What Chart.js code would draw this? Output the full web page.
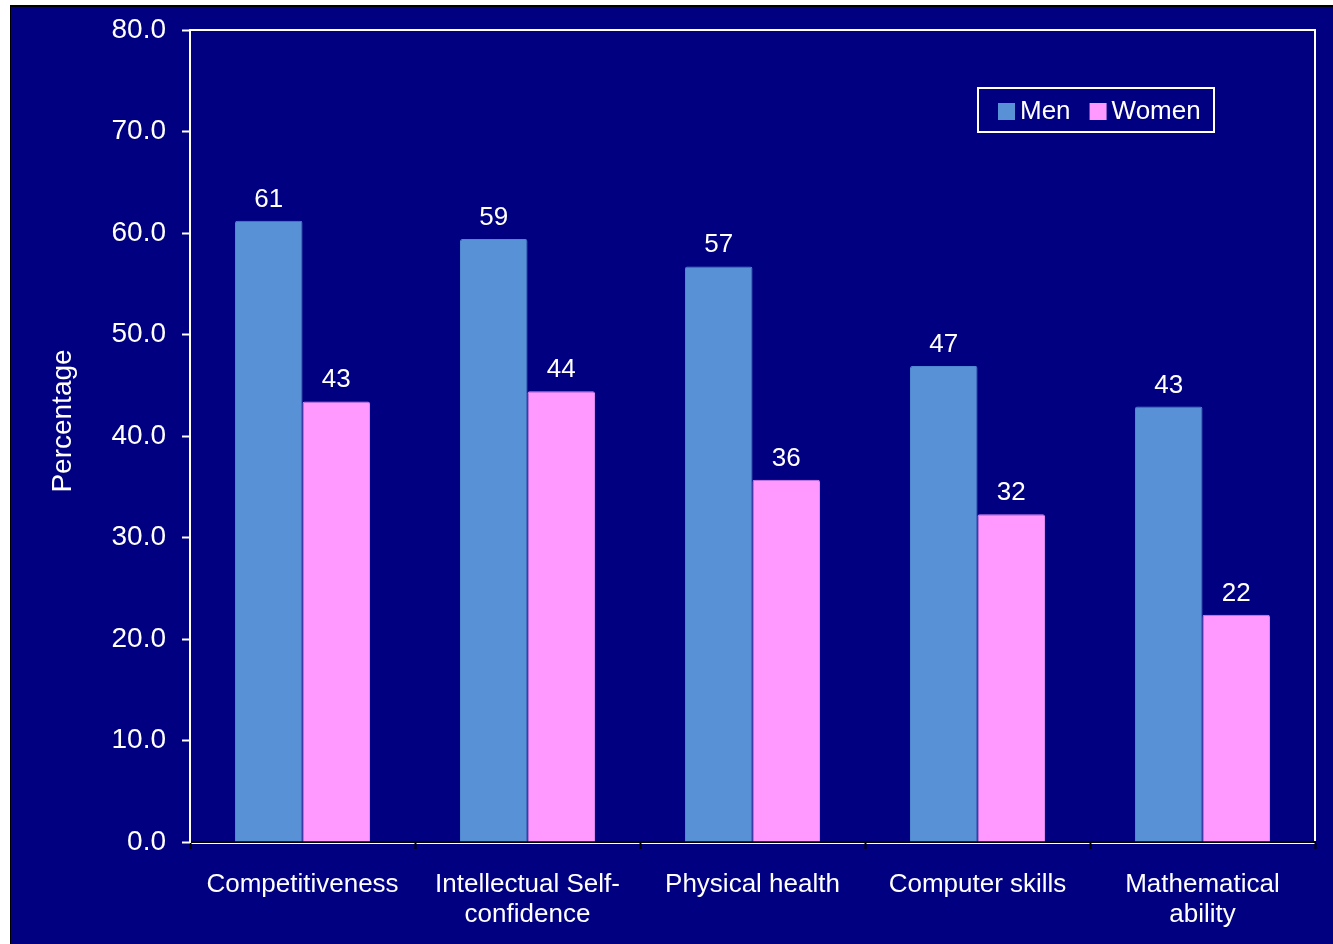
<!DOCTYPE html>
<html>
<head>
<meta charset="utf-8">
<script src="https://cdn.jsdelivr.net/npm/chart.js@4.4.1/dist/chart.umd.min.js"></script>
<style>
    body { margin: 0; background: #ffffff; }
    canvas { display: block; }
</style>
</head>
<body>
<canvas id="report" width="1333" height="944"></canvas>
<script>
const categories = ['Competitiveness', ['Intellectual Self-', 'confidence'], 'Physical health', 'Computer skills', ['Mathematical', 'ability']];
const menValues = [61.2, 59.4, 56.7, 46.9, 42.9];
const womenValues = [43.4, 44.4, 35.7, 32.3, 22.4];
const yTicks = { min: 0, max: 80, step: 10 };

const FONT = "'Liberation Sans', Arial, sans-serif";

// navy background with the thin black frame
const backgroundPlugin = {
    id: 'background',
    beforeDraw(chart) {
        const ctx = chart.ctx;
        const area = chart.chartArea;
        ctx.save();
        ctx.fillStyle = '#ffffff';
        ctx.fillRect(0, 0, chart.width, chart.height);
        ctx.fillStyle = '#000000';
        ctx.fillRect(10, 5, chart.width - 10, chart.height - 5);
        ctx.fillStyle = '#000080';
        ctx.fillRect(11, 7, chart.width - 11, chart.height - 7);
        // white plot frame
        ctx.strokeStyle = '#ffffff';
        ctx.lineWidth = 2;
        ctx.strokeRect(area.left, area.top, area.right - area.left, area.bottom - area.top + 1);
        ctx.restore();
    }
};

// value labels above the bars
const valueLabels = {
    id: 'valueLabels',
    afterDatasetsDraw(chart) {
        const ctx = chart.ctx;
        ctx.save();
        ctx.fillStyle = '#ffffff';
        ctx.font = '26px ' + FONT;
        ctx.textAlign = 'center';
        ctx.textBaseline = 'alphabetic';
        chart.data.datasets.forEach((ds, i) => {
            chart.getDatasetMeta(i).data.forEach((bar, j) => {
                ctx.fillText(Math.round(ds.data[j]), bar.x, bar.y - 14);
            });
        });
        ctx.restore();
    }
};

// boxed legend inside the plot area
const boxLegend = {
    id: 'boxLegend',
    afterDraw(chart) {
        const ctx = chart.ctx;
        const area = chart.chartArea;
        const x0 = area.right - 337;
        const y0 = area.top + 58;
        ctx.save();
        ctx.strokeStyle = '#ffffff';
        ctx.lineWidth = 2;
        ctx.strokeRect(x0, y0, 236, 44);
        ctx.font = '26px ' + FONT;
        ctx.textBaseline = 'middle';
        let x = x0 + 20;
        chart.data.datasets.forEach(ds => {
            ctx.fillStyle = ds.backgroundColor;
            ctx.fillRect(x, y0 + 15, 17, 17);
            ctx.fillStyle = '#ffffff';
            ctx.fillText(ds.label, x + 22, y0 + 24);
            x += 22 + ctx.measureText(ds.label).width + 19;
        });
        ctx.restore();
    }
};

// axis title, sitting a little above the middle of the axis
const yTitle = {
    id: 'yTitle',
    afterDraw(chart) {
        const ctx = chart.ctx;
        const area = chart.chartArea;
        ctx.save();
        ctx.translate(63, (area.top + area.bottom) / 2 - 15);
        ctx.rotate(-Math.PI / 2);
        ctx.fillStyle = '#ffffff';
        ctx.font = '28px ' + FONT;
        ctx.textAlign = 'center';
        ctx.textBaseline = 'middle';
        ctx.fillText('Percentage', 0, 0);
        ctx.restore();
    }
};

const ctx = document.getElementById('report').getContext('2d');
let myChart = new Chart(ctx, {
    type: 'bar',
    data: {
        labels: categories,
        datasets: [{
            label: 'Men',
            data: menValues,
            backgroundColor: '#5891D6',
            borderColor: '#5088D0',
            borderWidth: 1,
            borderRadius: 2,
            borderSkipped: 'bottom'
        }, {
            label: 'Women',
            data: womenValues,
            backgroundColor: '#FF99FF',
            borderColor: '#DD88F0',
            borderWidth: 1,
            borderRadius: 2,
            borderSkipped: 'bottom'
        }]
    },
    options: {
        responsive: false,
        animation: false,
        layout: { padding: { left: 0, top: 30, right: 18, bottom: 0 } },
        datasets: {
            bar: { categoryPercentage: 0.6, barPercentage: 1.0 }
        },
        plugins: {
            legend: { display: false },
            tooltip: { enabled: false }
        },
        scales: {
            x: {
                afterFit(scale) { scale.height = 102; },
                grid: {
                    drawOnChartArea: false,
                    drawTicks: true,
                    tickLength: 7,
                    tickWidth: 2,
                    tickColor: '#000000'
                },
                border: { color: '#000000', width: 2 },
                ticks: {
                    color: '#ffffff',
                    padding: 21,
                    maxRotation: 0,
                    autoSkip: false,
                    font: { family: FONT, size: 26, lineHeight: 1.154 }
                }
            },
            y: {
                min: yTicks.min,
                max: yTicks.max,
                afterFit(scale) {
                    scale.width = 190;
                    scale.paddingTop = 0;
                    scale.paddingBottom = 0;
                },
                grid: {
                    drawOnChartArea: false,
                    drawTicks: true,
                    tickLength: 8,
                    tickWidth: 2,
                    tickColor: '#ffffff'
                },
                border: { color: '#ffffff', width: 2 },
                ticks: {
                    stepSize: yTicks.step,
                    color: '#ffffff',
                    padding: 16,
                    font: { family: FONT, size: 28 },
                    callback: v => v.toFixed(1)
                }
            }
        }
    },
    plugins: [backgroundPlugin, valueLabels, boxLegend, yTitle]
});
</script>
</body>
</html>
